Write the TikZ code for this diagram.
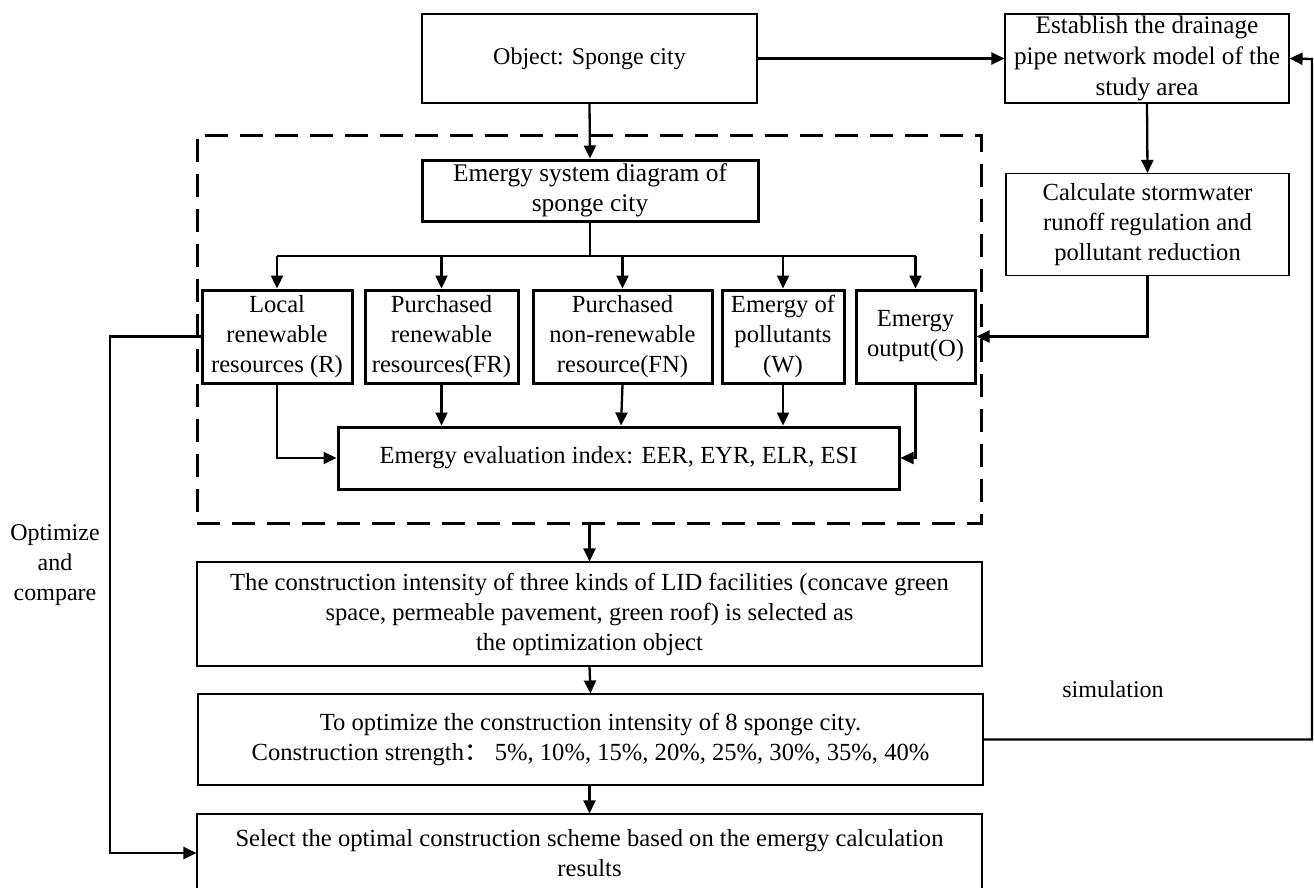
\documentclass[tikz,border=0pt]{standalone}
\usepackage{fontspec}
\setmainfont{Liberation Serif}
\newfontfamily\cjk{Noto Sans CJK SC}
\usetikzlibrary{arrows.meta}
\begin{document}
\begin{tikzpicture}[x=1pt,y=-1pt,
  every node/.style={font=\fontsize{24.6}{30}\selectfont, inner sep=0pt, align=center},
  bigtxt/.style={font=\fontsize{25.2}{31}\selectfont},
  thinbox/.style={draw, line width=1.1pt, rectangle},
  thickbox/.style={draw, line width=3pt, rectangle},
  grpbox/.style={draw, line width=3pt, rectangle, dash pattern=on 23pt off 12pt},
  arr/.style={line width=2.3pt, -{Triangle[length=13pt,width=12pt]}},
  ln/.style={line width=2.3pt}]
\clip (0,0) rectangle (1314,887);
\fill[white] (0,0) rectangle (1314,887);
% top
\node[thinbox, font=\fontsize{24}{30}\selectfont, minimum width=335pt, minimum height=89pt] (obj) at (589.5,58.5) {Object: Sponge city};
\node[thinbox, bigtxt, minimum width=284pt, minimum height=89pt] (est) at (1147,58.5) {Establish the drainage\\pipe network model of the\\study area};
\node[thinbox, minimum width=283pt, minimum height=102pt] (calc) at (1147.5,224.5) {Calculate stormwater\\runoff regulation and\\pollutant reduction};
% dashed group
\node[grpbox, minimum width=784pt, minimum height=388pt] (grp) at (589,329) {};
\node[thickbox, font=\fontsize{25.4}{30}\selectfont, minimum width=336pt, minimum height=61pt] (esd) at (590,190.5) {Emergy system diagram of\\sponge city};
\node[thickbox, minimum width=150pt, minimum height=93pt] (b1) at (277,336.5) {Local\\renewable\\resources (R)};
\node[thickbox, minimum width=153pt, minimum height=93pt] (b2) at (441.5,336.5) {Purchased\\renewable\\resources(FR)};
\node[thickbox, minimum width=179pt, minimum height=93pt] (b3) at (622.5,336.5) {Purchased\\non-renewable\\resource(FN)};
\node[thickbox, minimum width=122pt, minimum height=93pt] (b4) at (783,336.5) {Emergy of\\pollutants\\(W)};
\node[thickbox, minimum width=119pt, minimum height=93pt] (b5) at (915.5,336.5) {Emergy\\output(O)};
\node[thickbox, minimum width=561pt, minimum height=62pt] (eval) at (618.5,458) {Emergy evaluation index: EER, EYR, ELR, ESI};
% bottom
\node[thinbox, minimum width=785pt, minimum height=104pt] (lid) at (589.5,614) {The construction intensity of three kinds of LID facilities (concave green\\space, permeable pavement, green roof) is selected as\\the optimization object};
\node[thinbox, minimum width=785pt, minimum height=91pt] (opt) at (590.5,739.5) {To optimize the construction intensity of 8 sponge city.\\Construction strength{\cjk ：}\ 5\%, 10\%, 15\%, 20\%, 25\%, 30\%, 35\%, 40\%};
\node[thinbox, minimum width=785pt, minimum height=78pt] (sel) at (589.5,853) {Select the optimal construction scheme based on the emergy calculation\\results};
% labels
\node[font=\fontsize{24}{30}\selectfont] (optlbl) at (55,565) {Optimize\\and\\compare};
\node[font=\fontsize{24}{30}\selectfont] (simlbl) at (1113,689) {simulation};
% coordinates
\coordinate (bus) at (590,256);
\coordinate (simR) at (1312,59);
\coordinate (optL) at (110,330);
% connectors
\draw[arr] (obj.south) -- (esd.north);
\draw[arr] (obj.east) -- (est.west);
\draw[arr] (est.south) -- (calc.north);
\draw[arr] (calc.south) |- (b5.east);
\draw[ln] (esd.south) -- (bus);
\draw[ln] (b1.north |- bus) -- (b5.north |- bus);
\draw[arr] (b1.north |- bus) -- (b1.north);
\draw[arr] (b2.north |- bus) -- (b2.north);
\draw[arr] (b3.north |- bus) -- (b3.north);
\draw[arr] (b4.north |- bus) -- (b4.north);
\draw[arr] (b5.north |- bus) -- (b5.north);
\draw[arr] (b1.south) |- (eval.west);
\draw[arr] (b2.south) -- (b2.south |- eval.north);
\draw[arr] (b3.south) -- ([xshift=-1.5pt]b3.south |- eval.north);
\draw[arr] (b4.south) -- (b4.south |- eval.north);
\draw[arr] (b5.south) |- (eval.east);
\draw[arr] (lid.north |- grp.south) -- (lid.north);
\draw[arr] (lid.south) -- (opt.north);
\draw[arr] ([xshift=-1pt]opt.south) -- (sel.north);
\draw[arr] (opt.east) -- (opt.east -| simR) -- (simR) -- (est.east);
\draw[arr] (b1.west) -- (b1.west -| optL) -- (optL |- sel.west) -- (sel.west);
\end{tikzpicture}
\end{document}
